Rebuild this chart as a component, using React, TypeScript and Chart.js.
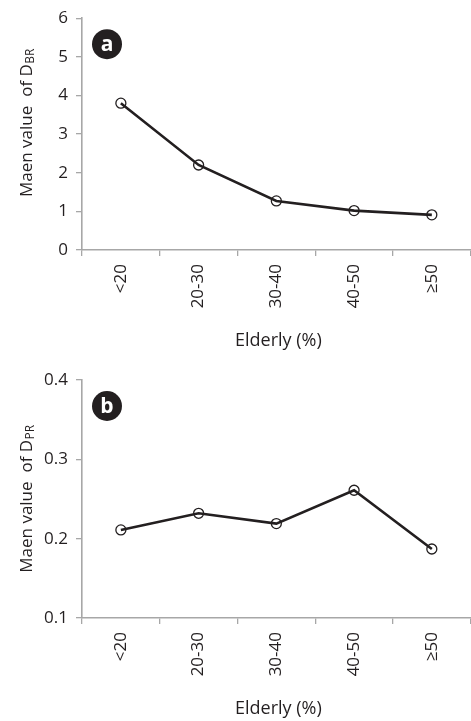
import React, { useEffect, useRef } from 'react';
import { Chart, registerables } from 'chart.js';

Chart.register(...registerables);

const categories = ['<20', '20-30', '30-40', '40-50', '≥50'];
const dbrValues = [3.8, 2.2, 1.27, 1.02, 0.91];
const dprValues = [0.211, 0.232, 0.219, 0.261, 0.187];
const dbrTicks = [0, 1, 2, 3, 4, 5, 6];
const dprTicks = [0.1, 0.2, 0.3, 0.4];
const xTitle = 'Elderly (%)';
const yTitleMain = 'Maen value  of D';

const TEXT = '#231f20';
const AXIS = '#a7a7a7';
const FONT = '"Open Sans", "Noto Sans", sans-serif';

const decorPlugin = {
  id: 'decor',
  afterDraw(chart: any, _args: any, opts: any) {
    const { ctx, chartArea } = chart;
    ctx.save();
    // badge
    const bx = 107;
    const by = chartArea.top + 26;
    ctx.fillStyle = TEXT;
    ctx.beginPath();
    ctx.arc(bx, by, 15, 0, Math.PI * 2);
    ctx.fill();
    ctx.fillStyle = '#ffffff';
    ctx.font = `bold 21px ${FONT}`;
    ctx.textAlign = 'center';
    ctx.textBaseline = 'middle';
    ctx.fillText(opts.badge, bx, by + 1);
    // x title
    ctx.fillStyle = TEXT;
    ctx.font = `18px ${FONT}`;
    ctx.fillText(xTitle, (chartArea.left + chartArea.right) / 2 + 2, chartArea.bottom + 91);
    // y title with subscript
    ctx.translate(32, opts.yCenter);
    ctx.rotate(-Math.PI / 2);
    ctx.textAlign = 'left';
    ctx.textBaseline = 'alphabetic';
    ctx.font = `17px ${FONT}`;
    const w1 = ctx.measureText(yTitleMain).width;
    ctx.font = `12px ${FONT}`;
    const w2 = ctx.measureText(opts.sub).width;
    const start = -(w1 + w2) / 2;
    ctx.font = `17px ${FONT}`;
    ctx.fillText(yTitleMain, start, 0);
    ctx.font = `12px ${FONT}`;
    ctx.fillText(opts.sub, start + w1 + 0.5, 2);
    ctx.restore();
  },
};

type PanelProps = {
  values: number[];
  yTicks: number[];
  decimals: number;
  badge: string;
  sub: string;
  height: number;
  padTop: number;
  xHeight: number;
  yCenter: number;
};

function Panel(p: PanelProps) {
  const ref = useRef<HTMLCanvasElement | null>(null);
  useEffect(() => {
    if (!ref.current) return;
    const chart = new Chart(ref.current, {
      type: 'line',
      data: {
        labels: categories,
        datasets: [
          {
            data: p.values,
            borderColor: TEXT,
            borderWidth: 2.6,
            pointRadius: 5,
            pointBorderWidth: 1.3,
            pointBackgroundColor: 'rgba(255,255,255,0)',
            pointBorderColor: TEXT,
            tension: 0,
            fill: false,
          },
        ],
      },
      plugins: [decorPlugin],
      options: {
        animation: false,
        responsive: false,
        maintainAspectRatio: false,
        layout: { padding: { top: p.padTop, left: 0, right: 0, bottom: 0 } },
        plugins: {
          legend: { display: false },
          tooltip: { enabled: false },
          title: { display: false },
          decor: { badge: p.badge, sub: p.sub, yCenter: p.yCenter },
        } as any,
        scales: {
          x: {
            type: 'category',
            offset: true,
            grid: {
              offset: true,
              drawOnChartArea: false,
              drawTicks: true,
              tickLength: 6,
              color: AXIS,
              lineWidth: 1.3,
            },
            border: { display: true, color: AXIS, width: 1.6 },
            ticks: {
              autoSkip: false,
              minRotation: 90,
              maxRotation: 90,
              padding: 8,
              color: TEXT,
              font: { family: FONT, size: 17 },
            },
            afterFit: (s: any) => {
              s.height = p.xHeight;
            },
          },
          y: {
            type: 'linear',
            min: p.yTicks[0],
            max: p.yTicks[p.yTicks.length - 1],
            afterBuildTicks: (s: any) => {
              s.ticks = p.yTicks.map((v) => ({ value: v }));
            },
            grid: {
              drawOnChartArea: false,
              drawTicks: true,
              tickLength: 6,
              color: AXIS,
              lineWidth: 1.3,
            },
            border: { display: true, color: AXIS, width: 1.6 },
            ticks: {
              padding: 8,
              color: TEXT,
              font: { family: FONT, size: 17 },
              callback: (v: any) => Number(v).toFixed(p.decimals),
            },
            afterFit: (s: any) => {
              s.width = 82;
            },
          },
        },
      } as any,
    });
    return () => chart.destroy();
  }, []);
  return (
    <canvas
      ref={ref}
      width={477}
      height={p.height}
      style={{ display: 'block', width: 477, height: p.height }}
    />
  );
}

export default function App() {
  return (
    <div
      style={{
        position: 'fixed',
        left: 0,
        top: 0,
        width: 471,
        height: 721,
        overflow: 'hidden',
        background: '#ffffff',
      }}
    >
      <Panel
        values={dbrValues}
        yTicks={dbrTicks}
        decimals={0}
        badge="a"
        sub="BR"
        height={360}
        padTop={11}
        xHeight={110}
        yCenter={123}
      />
      <Panel
        values={dprValues}
        yTicks={dprTicks}
        decimals={1}
        badge="b"
        sub="PR"
        height={361}
        padTop={20}
        xHeight={103}
        yCenter={139}
      />
    </div>
  );
}
